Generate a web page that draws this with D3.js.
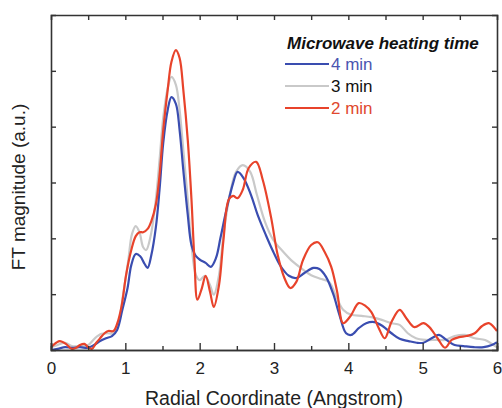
<!DOCTYPE html>
<html><head><meta charset="utf-8">
<script src="https://cdn.jsdelivr.net/npm/d3@7"></script>
<style>
html,body{margin:0;padding:0;background:#fff;}
svg{display:block;font-family:"Liberation Sans",Arial,Helvetica,sans-serif;}
</style></head>
<body>
<script>
// ---- data (R in Angstrom, FT magnitude in a.u.) ----
const seriesNames = ["4 min", "3 min", "2 min"];
const seriesColors = ["#3a4db0", "#c9c9c9", "#e8432b"];
const legendTitle = "Microwave heating time";
const xLabel = "Radial Coordinate (Angstrom)";
const yLabel = "FT magnitude (a.u.)";
const xTicks = [0, 1, 2, 3, 4, 5, 6];

const blueX = [0.00,0.09,0.19,0.28,0.39,0.50,0.58,0.66,0.74,0.82,0.89,0.96,1.03,1.08,1.14,1.20,1.26,1.30,1.35,1.41,1.46,1.51,1.57,1.62,1.68,1.73,1.78,1.84,1.89,1.95,2.01,2.08,2.15,2.22,2.28,2.36,2.45,2.51,2.59,2.69,2.78,2.89,2.99,3.09,3.20,3.30,3.41,3.53,3.61,3.70,3.80,3.88,3.97,4.04,4.14,4.24,4.35,4.46,4.58,4.69,4.81,4.92,5.01,5.12,5.22,5.32,5.43,5.55,5.69,5.82,5.93,6.00];
const blueY = [0.00,0.02,0.05,0.04,0.05,0.04,0.09,0.16,0.21,0.25,0.36,0.72,1.11,1.52,1.72,1.68,1.54,1.47,1.70,2.19,2.87,3.71,4.30,4.53,4.41,3.94,3.22,2.42,1.88,1.68,1.61,1.56,1.49,1.65,2.01,2.51,2.99,3.19,3.08,2.78,2.42,2.06,1.76,1.50,1.33,1.29,1.38,1.47,1.45,1.31,0.99,0.63,0.30,0.27,0.39,0.48,0.50,0.43,0.30,0.20,0.16,0.13,0.13,0.21,0.27,0.18,0.09,0.07,0.05,0.05,0.09,0.14];

const grayX = [0.00,0.09,0.19,0.28,0.39,0.50,0.59,0.68,0.76,0.84,0.91,0.97,1.04,1.09,1.14,1.19,1.24,1.28,1.34,1.41,1.46,1.51,1.57,1.62,1.68,1.73,1.78,1.84,1.89,1.95,2.00,2.07,2.14,2.19,2.26,2.32,2.41,2.49,2.58,2.68,2.77,2.88,2.99,3.09,3.23,3.36,3.50,3.64,3.74,3.84,3.93,4.04,4.18,4.31,4.45,4.58,4.69,4.80,4.91,5.04,5.18,5.30,5.43,5.57,5.70,5.84,5.93,6.00];
const grayY = [0.05,0.09,0.13,0.07,0.07,0.09,0.21,0.29,0.30,0.30,0.50,0.99,1.61,2.08,2.22,2.11,1.84,1.79,2.04,2.69,3.40,4.16,4.69,4.89,4.75,4.30,3.58,2.69,1.88,1.34,1.25,1.33,1.16,0.99,1.34,2.06,2.81,3.19,3.31,3.19,2.78,2.29,1.97,1.81,1.61,1.47,1.34,1.27,1.22,0.95,0.72,0.63,0.61,0.59,0.54,0.48,0.45,0.30,0.21,0.18,0.18,0.18,0.25,0.27,0.21,0.18,0.11,0.05];

const redX = [0.00,0.07,0.12,0.20,0.28,0.34,0.39,0.45,0.50,0.55,0.61,0.66,0.72,0.77,0.84,0.89,0.95,1.01,1.08,1.14,1.19,1.24,1.30,1.35,1.41,1.46,1.51,1.57,1.62,1.68,1.73,1.78,1.84,1.89,1.93,1.97,2.03,2.08,2.14,2.19,2.26,2.32,2.39,2.45,2.51,2.58,2.66,2.76,2.85,2.96,3.05,3.14,3.22,3.30,3.39,3.50,3.59,3.68,3.77,3.85,3.93,4.03,4.14,4.23,4.31,4.41,4.49,4.58,4.69,4.78,4.89,5.01,5.09,5.20,5.30,5.39,5.49,5.59,5.70,5.80,5.89,5.97,6.00];
const redY = [0.05,0.13,0.16,0.11,0.02,0.04,0.09,0.11,0.05,0.02,0.13,0.21,0.30,0.34,0.34,0.47,0.79,1.34,1.79,2.04,2.11,2.11,2.17,2.31,2.60,3.13,3.94,4.66,5.16,5.37,5.23,4.66,3.76,2.69,1.61,0.90,1.11,1.33,1.04,0.77,1.16,1.97,2.69,2.76,2.72,2.87,3.26,3.37,3.04,2.38,1.70,1.29,1.11,1.22,1.61,1.88,1.93,1.76,1.49,1.04,0.48,0.61,0.84,0.79,0.68,0.39,0.21,0.50,0.72,0.57,0.41,0.48,0.41,0.21,0.04,0.18,0.23,0.25,0.30,0.43,0.48,0.39,0.34];

const seriesX = [blueX, grayX, redX];
const seriesY = [blueY, grayY, redY];

// ---- layout ----
const W = 502, H = 408;
const m = {left: 51, right: 5, top: 15, bottom: 58};
const svg = d3.select("body").append("svg").attr("width", W).attr("height", H);
const x = d3.scaleLinear().domain([0, 6]).range([m.left, W - m.right]);
const y = d3.scaleLinear().domain([0, 6]).range([H - m.bottom, m.top]);

const axisColor = "#333";
const order = [1, 0, 2];
const line = d3.line().x(d => x(d[0])).y(d => y(d[1])).curve(d3.curveCatmullRom.alpha(0.5));
svg.append("defs").append("clipPath").attr("id", "clip")
  .append("rect").attr("x", m.left).attr("y", m.top).attr("width", x(6) - m.left).attr("height", y(0) - m.top);
const gCurves = svg.append("g").attr("clip-path", "url(#clip)");
order.forEach(i => {
  const pts = seriesX[i].map((v, k) => [v, seriesY[i][k]]);
  gCurves.append("path").datum(pts).attr("d", line)
    .attr("fill", "none").attr("stroke", seriesColors[i]).attr("stroke-width", 2.2)
    .attr("stroke-linejoin", "round");
});

// axes
const minorX = d3.range(0.5, 6, 1);
const yT = d3.range(1, 6, 1);
const gBottom = svg.append("g").attr("transform", `translate(0,${y(0)})`)
  .call(d3.axisBottom(x).tickValues(xTicks).tickSize(-7).tickPadding(12).tickFormat(d3.format("d")));
svg.append("g").attr("transform", `translate(0,${y(0)})`)
  .call(d3.axisBottom(x).tickValues(minorX).tickSize(-4).tickFormat(""));
svg.append("g").attr("transform", `translate(0,${y(6)})`)
  .call(d3.axisTop(x).tickValues(d3.range(0.5, 6, 0.5)).tickSize(-5).tickFormat(""));
svg.append("g").attr("transform", `translate(${x(0)},0)`)
  .call(d3.axisLeft(y).tickValues(yT).tickSize(-5).tickFormat(""));
svg.append("g").attr("transform", `translate(${x(6)},0)`)
  .call(d3.axisRight(y).tickValues(yT).tickSize(-5).tickFormat(""));
svg.selectAll(".domain").attr("stroke", axisColor).attr("stroke-width", 1.6);
svg.selectAll(".tick line").attr("stroke", axisColor).attr("stroke-width", 1.4);
gBottom.selectAll("text").attr("font-size", 17).attr("fill", "#222")
  .attr("font-family", "'Liberation Sans',Arial,sans-serif");

// axis labels
svg.append("text").attr("x", (x(0) + x(6)) / 2).attr("y", 405)
  .attr("text-anchor", "middle").attr("font-size", 19.5).attr("fill", "#222").text(xLabel);
svg.append("text").attr("transform", `translate(25,187) rotate(-90)`)
  .attr("text-anchor", "middle").attr("font-size", 19).attr("fill", "#222").text(yLabel);

// legend
svg.append("text").attr("x", 287).attr("y", 49).attr("font-size", 17)
  .attr("font-weight", "bold").attr("font-style", "italic").attr("fill", "#111").text(legendTitle);
const textColors = ["#4a55b0", "#111", "#e0472e"];
seriesNames.forEach((n, i) => {
  const yy = 64 + i * 22;
  svg.append("line").attr("x1", 285).attr("x2", 329).attr("y1", yy).attr("y2", yy)
    .attr("stroke", seriesColors[i]).attr("stroke-width", 2);
  svg.append("text").attr("x", 331).attr("y", yy + 6).attr("font-size", 17)
    .attr("fill", textColors[i]).text(n);
});
</script>
</body></html>
